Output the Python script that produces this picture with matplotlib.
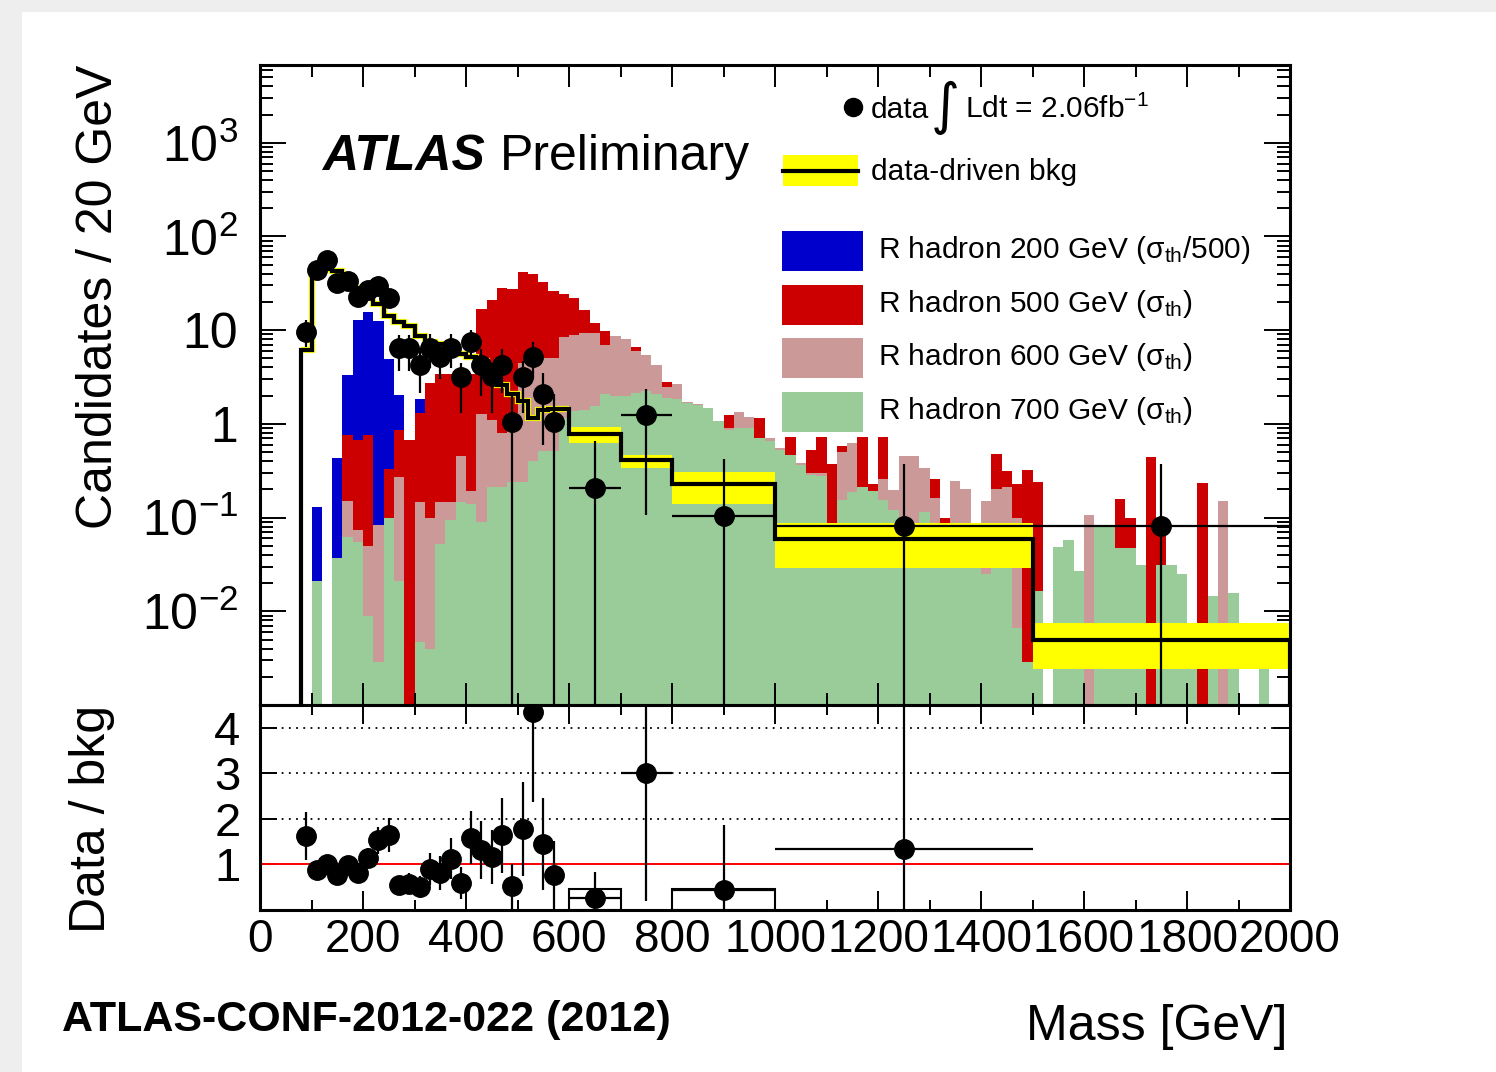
import numpy as np
import matplotlib
matplotlib.use("Agg")
import matplotlib.pyplot as plt
from matplotlib.patches import Rectangle
from matplotlib.ticker import FixedLocator, MultipleLocator, LogLocator, NullFormatter

plt.rcParams['font.family'] = ['Liberation Sans', 'DejaVu Sans']
plt.rcParams['mathtext.fontset'] = 'custom'
plt.rcParams['mathtext.rm'] = 'Liberation Sans'
plt.rcParams['mathtext.it'] = 'Liberation Sans:italic'
plt.rcParams['mathtext.bf'] = 'Liberation Sans:bold'

# 20 GeV bins from 0 to 2000 GeV
edges = np.arange(0, 2001, 20)

rh200 = [0, 0, 0, 0, 0, 0.13, 0, 0.43, 3.3, 12.9,
         15.6, 12.5, 4.9, 2.05, 0.5, 1.83, 0.4, 0.2, 0, 0] + [0] * 80

rh500 = [0, 0, 0, 0, 0, 0, 0, 0, 0.76, 0.68,
         0.76, 0.05, 0.33, 0.87, 0.68, 1.31, 2.7, 3.4, 3.4, 3.2,
         3.4, 16.9, 20.8, 28.5, 27.4, 41.3, 39.3, 32.8, 26.0, 24.6,
         22.3, 16.6, 11.9, 9.75, 7.5, 7.0, 6.6, 5.0, 3.5, 2.8,
         2.2, 1.5, 1.4, 1.1, 0.95, 1.23, 1.0, 0.9, 1.16, 0.6,
         0.5, 0.72, 0.3, 0.53, 0.72, 0.37, 0.575, 0.5, 0.72, 0.23,
         0.72, 0.15, 0.3, 0.3, 0.2, 0.26, 0.1, 0.2, 0.15, 0.03,
         0.1, 0.475, 0.315, 0.23, 0.32, 0.24, 0, 0.03, 0.03, 0.02,
         0.05, 0.05, 0.05, 0.156, 0.1, 0.02, 0.44, 0.1, 0.02, 0.02,
         0.004, 0.232, 0.01, 0.1, 0.01, 0, 0, 0, 0, 0]

rh600 = [0, 0, 0, 0, 0, 0, 0, 0, 0.15, 0.073,
         0.05, 0.083, 0.06, 0.27, 0, 0.148, 0.1, 0.148, 0.148, 0.45,
         0.19, 1.26, 1.11, 0.8, 1.3, 4.5, 5.8, 5.1, 5.1, 8.4,
         8.9, 9.3, 9.3, 6.9, 8.6, 8.1, 6.0, 5.5, 4.2, 2.5,
         2.69, 1.72, 1.64, 1.2, 0.9, 0.9, 1.34, 1.18, 0.707, 0.707,
         0.552, 0.38, 0.38, 0.3, 0.3, 0.05, 0.5, 0.625, 0.21, 0.15,
         0.26, 0.196, 0.45, 0.45, 0.34, 0.16, 0.06, 0.245, 0.2, 0.03,
         0.15, 0.2, 0.21, 0.1, 0, 0, 0, 0.02, 0.02, 0.02,
         0.106, 0, 0, 0, 0, 0, 0, 0, 0, 0,
         0, 0, 0, 0.151, 0, 0, 0, 0, 0, 0]

rh700 = [0, 0, 0, 0, 0, 0.021, 0, 0.037, 0.062, 0.055,
         0.009, 0.0029, 0.098, 0.021, 0, 0.0047, 0.004, 0.052, 0.094, 0.148,
         0.14, 0.09, 0.21, 0.21, 0.242, 0.242, 0.397, 0.51, 0.51, 1.16,
         1.37, 1.42, 1.55, 2.07, 2.0, 2.0, 2.15, 2.27, 2.07, 1.9,
         1.83, 1.68, 1.6, 1.49, 1.07, 0.87, 0.9, 0.9, 0.71, 0.65,
         0.53, 0.47, 0.365, 0.285, 0.28, 0.05, 0.153, 0.189, 0.21, 0.19,
         0.153, 0.12, 0.06, 0.06, 0.115, 0.05, 0.05, 0.05, 0.05, 0.05,
         0.025, 0.05, 0.05, 0.0067, 0.0029, 0.0163, 0, 0.049, 0.058, 0.027,
         0, 0.083, 0.083, 0.047, 0.047, 0.031, 0, 0.031, 0.031, 0.025,
         0.005, 0, 0.0146, 0, 0.0155, 0, 0, 0.004, 0, 0]

# data-driven background
bkg_edges = list(range(80, 601, 20)) + [700, 800, 1000, 1500, 2000]
bkg_vals = [6.1, 47, 45, 43, 33, 28, 24, 19, 14, 12.2,
            11, 8.6, 7.5, 7.2, 6.5, 5.6, 5.2, 4.7, 3.6, 2.6,
            2.1, 1.77, 1.16, 1.42, 1.45, 1.45,
            0.786, 0.41, 0.226, 0.0595, 0.0049]
band_left = [600, 700, 800, 1000, 1500]
band_width = [100, 100, 200, 500, 500]
band_lo = [0.625, 0.336, 0.141, 0.029, 0.0024]
band_hi = [0.93, 0.468, 0.305, 0.088, 0.0075]

# data
data_x = [90, 110, 130, 150, 170, 190, 210, 230, 250, 270,
          290, 310, 330, 350, 370, 390, 410, 430, 450, 470,
          490, 510, 530, 550, 570, 650, 750, 900, 1250, 1750]
data_xerr = [0] * 25 + [50, 50, 100, 250, 250]
data_y = [9.5, 44, 56, 32, 33.6, 22.6, 26.7, 29.4, 22.2, 6.45,
          6.45, 4.27, 6.45, 5.2, 6.45, 3.2, 7.4, 4.27, 3.26, 4.2,
          1.04, 3.2, 5.2, 2.1, 1.04, 0.205, 1.25, 0.103, 0.082, 0.082]
data_lo = [6.6, 37, 48, 26, 28, 18, 21.6, 24, 17.5, 3.7,
           3.7, 2.15, 3.9, 3.0, 3.9, 1.3, 5.0, 2.0, 1.3, 2.15,
           1e-4, 1.3, 3.0, 0.6, 1e-4, 1e-4, 0.106, 1e-4, 1e-4, 1e-4]
data_hi = [12.8, 51, 64, 38, 40, 27.5, 32, 35, 27, 8.8,
           8.8, 6.4, 9.0, 7.5, 9.0, 4.5, 10.0, 6.3, 4.5, 6.3,
           2.1, 4.7, 7.5, 3.5, 2.1, 0.66, 2.34, 0.42, 0.37, 0.37]

# ratio data / bkg
ratio_x = data_x[:-1]
ratio_xerr = data_xerr[:-1]
ratio_y = [1.62, 0.88, 1.02, 0.76, 0.98, 0.81, 1.15, 1.53, 1.64, 0.54,
           0.58, 0.5, 0.9, 0.81, 1.12, 0.59, 1.59, 1.31, 1.16, 1.64,
           0.52, 1.78, 4.35, 1.45, 0.76, 0.27, 3.0, 0.45, 1.33]
ratio_lo = [1.09, 0.74, 0.88, 0.63, 0.81, 0.64, 0.93, 1.23, 1.27, 0.33,
            0.35, 0.26, 0.55, 0.44, 0.67, 0.24, 1.01, 0.67, 0.56, 0.82,
            0.02, 0.75, 2.37, 0.45, 0.01, 0.0, 0.2, 0.0, 0.0]
ratio_hi = [2.15, 1.02, 1.16, 0.89, 1.15, 0.98, 1.37, 1.83, 2.01, 0.75,
            0.81, 0.74, 1.25, 1.18, 1.57, 0.94, 2.17, 1.95, 1.76, 2.46,
            1.02, 2.81, 6.0, 2.45, 1.51, 0.83, 6.0, 1.86, 6.0]
box_left = [600, 800]
box_width = [100, 200]
box_height = [0.47, 0.46]

signals = [
    (rh200, '#0000cc', r'R hadron 200 GeV (σ$_{\mathrm{th}}$/500)'),
    (rh500, '#cc0000', r'R hadron 500 GeV (σ$_{\mathrm{th}}$)'),
    (rh600, '#cc9999', r'R hadron 600 GeV (σ$_{\mathrm{th}}$)'),
    (rh700, '#99cc99', r'R hadron 700 GeV (σ$_{\mathrm{th}}$)'),
]

W, H = 1496, 1072


def fx(px):
    return px / W


def fy(py):
    return 1 - py / H


fig = plt.figure(figsize=(W / 100, H / 100), dpi=100)
fig.patch.set_facecolor('#eeeeee')
fig.add_artist(Rectangle((fx(22), 0), 1 - fx(22), fy(12), transform=fig.transFigure,
                         facecolor='white', edgecolor='none', zorder=-10))

ax = fig.add_axes([fx(260), fy(705), fx(1290) - fx(260), fy(65) - fy(705)])
rax = fig.add_axes([fx(260), fy(910), fx(1290) - fx(260), fy(705) - fy(910)])

# ---- main panel ----
ax.set_yscale('log')
for vals, col, _ in signals:
    y = np.array(vals + [vals[-1]], dtype=float)
    y = np.where(y > 0, y, 1e-6)
    ax.fill_between(edges, 1e-6, y, step='post', color=col, lw=0, zorder=1)

ax.bar(band_left, np.array(band_hi) - np.array(band_lo), width=band_width,
       bottom=band_lo, align='edge', color='#ffff00', lw=0, zorder=3)
ax.stairs(bkg_vals[:26], bkg_edges[:27], baseline=None, color='#ffff00', lw=4.5, zorder=3)
ax.stairs(bkg_vals, bkg_edges, baseline=1e-6, color='black', lw=3, zorder=4)

dy = np.array(data_y)
ax.errorbar(data_x, data_y, yerr=[dy - np.array(data_lo), np.array(data_hi) - dy],
            xerr=data_xerr, fmt='o', color='black', ms=14, elinewidth=1.6,
            capsize=0, zorder=10)

ax.set_xlim(0, 2000)
ax.set_ylim(1e-3, 6760)
ax.xaxis.set_major_locator(MultipleLocator(200))
ax.xaxis.set_minor_locator(MultipleLocator(100))
ax.yaxis.set_major_locator(FixedLocator([1e-3, 1e-2, 1e-1, 1, 10, 100, 1000]))
ax.yaxis.set_minor_locator(LogLocator(base=10, subs=np.arange(2, 10), numticks=20))
ax.yaxis.set_minor_formatter(NullFormatter())
ax.set_yticklabels(['', r'$10^{-2}$', r'$10^{-1}$', '1', '10', r'$10^{2}$', r'$10^{3}$'])
ax.tick_params(which='both', direction='in', top=True, right=True, labelbottom=False)
ax.tick_params(axis='x', which='major', length=16, width=1.4)
ax.tick_params(axis='x', which='minor', length=8.5, width=1.4)
ax.tick_params(axis='y', which='major', length=19, width=1.4, labelsize=36, pad=16)
ax.tick_params(axis='y', which='minor', length=9.5, width=1.4)
for s in ax.spines.values():
    s.set_linewidth(2.2)
    s.set_zorder(20)

# ---- ratio panel ----
for v in [2, 3, 4]:
    rax.axhline(v, color='black', ls=(0, (1, 3)), lw=1.3, zorder=1)
rax.axhline(1, color='red', lw=1.4, zorder=2)
for l, w, h in zip(box_left, box_width, box_height):
    rax.add_patch(Rectangle((l, 0), w, h, fill=False, ec='black', lw=1.5, zorder=3))
ry = np.array(ratio_y)
rax.errorbar(ratio_x, ratio_y, yerr=[ry - np.array(ratio_lo), np.array(ratio_hi) - ry],
             xerr=ratio_xerr, fmt='o', color='black', ms=14, elinewidth=1.6,
             capsize=0, zorder=10)
rax.set_xlim(0, 2000)
rax.set_ylim(0, 4.5)
rax.xaxis.set_major_locator(MultipleLocator(200))
rax.xaxis.set_minor_locator(MultipleLocator(100))
rax.set_yticks([1, 2, 3, 4])
rax.set_xticks(range(0, 2001, 200))
rax.set_xticklabels([str(v) for v in range(0, 2001, 200)])
rax.tick_params(which='both', direction='in', top=True, right=True)
rax.tick_params(axis='x', which='major', length=14, width=1.4, labelsize=33, pad=6)
rax.tick_params(axis='x', which='minor', length=7, width=1.4)
rax.tick_params(axis='y', which='major', length=12, width=1.4, labelsize=34, pad=14)
for s in rax.spines.values():
    s.set_linewidth(2.2)
    s.set_zorder(20)

# ---- labels ----
fig.text(fx(99), fy(65), 'Candidates / 20 GeV', rotation=90, ha='center', va='top', fontsize=36)
fig.text(fx(92), fy(705), 'Data / bkg', rotation=90, ha='center', va='top', fontsize=36)
fig.text(fx(1288), fy(1027), 'Mass [GeV]', ha='right', va='center', fontsize=36)
fig.text(fx(62), fy(1020), 'ATLAS-CONF-2012-022 (2012)', ha='left', va='center',
         fontsize=31, fontweight='bold')

fig.text(fx(322), fy(170), 'ATLAS', ha='left', va='baseline', fontsize=36,
         fontweight='bold', fontstyle='italic')
fig.text(fx(500), fy(170), 'Preliminary', ha='left', va='baseline', fontsize=36)

# ---- legend ----
fig.lines.append(plt.Line2D([fx(853)], [fy(107)], marker='o', ms=13, color='black',
                            transform=fig.transFigure))
fig.text(fx(871), fy(118), 'data', ha='left', va='baseline', fontsize=21.5)
fig.text(fx(945), fy(108), '∫', ha='center', va='center', fontsize=40, family='DejaVu Sans')
fig.text(fx(965), fy(118), r'Ldt = 2.06fb$^{-1}$', ha='left', va='baseline', fontsize=21.5)

fig.add_artist(Rectangle((fx(783), fy(186)), fx(858) - fx(783), fy(155) - fy(186),
                         transform=fig.transFigure, facecolor='#ffff00', edgecolor='none'))
fig.lines.append(plt.Line2D([fx(783), fx(858)], [fy(171), fy(171)], color='black', lw=3,
                            transform=fig.transFigure))
fig.text(fx(871), fy(180), 'data-driven bkg', ha='left', va='baseline', fontsize=21.5)

for k, (vals, col, lab) in enumerate(signals):
    top = 231 + k * 53.7
    fig.add_artist(Rectangle((fx(782), fy(top + 40)), fx(863) - fx(782), fy(top) - fy(top + 40),
                             transform=fig.transFigure, facecolor=col, edgecolor='none'))
    fig.text(fx(878), fy(top + 27), lab, ha='left', va='baseline', fontsize=21.5)

fig.savefig('out.png', dpi=100, facecolor=fig.get_facecolor())
